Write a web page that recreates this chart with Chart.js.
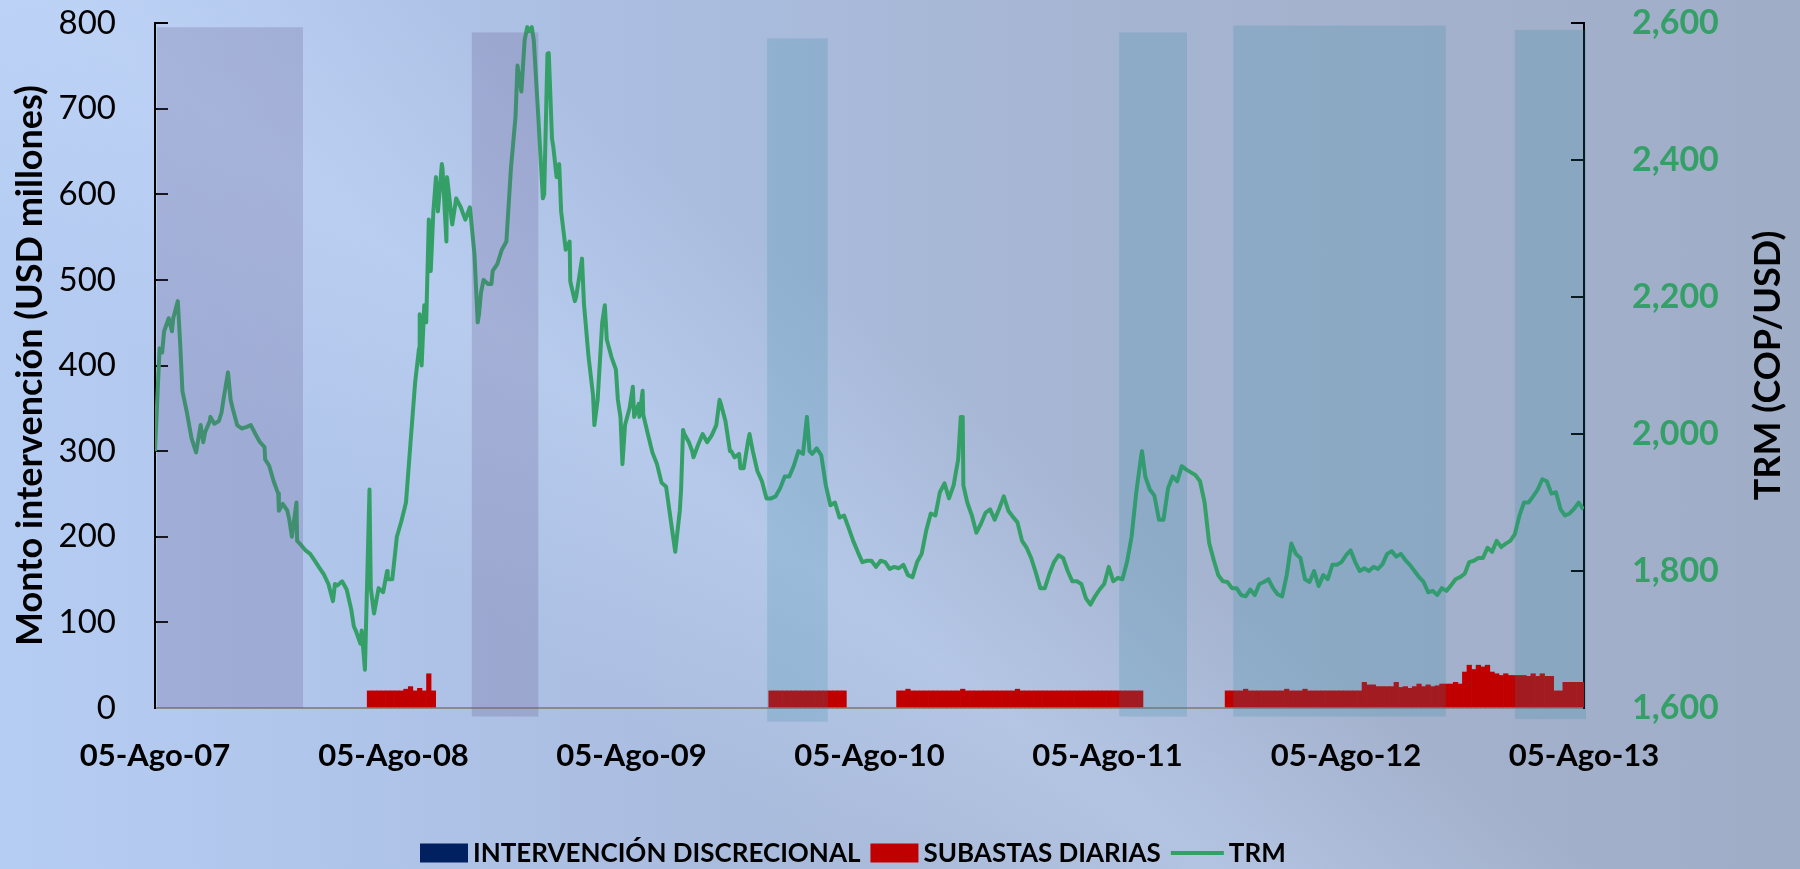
<!DOCTYPE html>
<html lang="es">
<head>
<meta charset="utf-8">
<title>Intervención cambiaria y TRM</title>
<script src="https://cdn.jsdelivr.net/npm/chart.js@4.4.1/dist/chart.umd.min.js"></script>
<style>
  html, body { margin: 0; padding: 0; }
  body {
    width: 1800px;
    height: 869px;
    overflow: hidden;
    background:
      linear-gradient(37deg, rgba(200, 220, 252, 0) 28%, rgba(200, 220, 252, 0.4) 41%, rgba(200, 220, 252, 0) 54%),
      linear-gradient(to right, #b6cdf3 0%, #acc0e4 30%, #a6b5d2 60%, #a0adc7 100%);
  }
  canvas { display: block; }
</style>
</head>
<body>
<canvas id="chart" width="1800" height="869"></canvas>
<script>
// x values are days counted from 05-Ago-2007
const tickDays = [0, 366, 731, 1096, 1461, 1827, 2192];
const tickLabels = ['05-Ago-07', '05-Ago-08', '05-Ago-09', '05-Ago-10', '05-Ago-11', '05-Ago-12', '05-Ago-13'];
const WEEK = 7;

// TRM (COP/USD), one reading per week
const trmWeekly = [
    1975, 2125, 2150, 2169, 2169, 2194, 2063, 2031, 1994, 1973,
    2013, 2003, 2019, 2015, 2019, 2050, 2090, 2038, 2013, 2008,
    2010, 2013, 2000, 1988, 1981, 1954, 1931, 1913, 1898, 1888,
    1850, 1900, 1838, 1830, 1825, 1815, 1805, 1795, 1781, 1756,
    1779, 1785, 1773, 1744, 1713, 1694, 1656, 1919, 1738, 1775,
    1769, 1788, 1788, 1850, 1873, 1900, 1988, 2075, 2175, 2188,
    2313, 2325, 2325, 2388, 2375, 2313, 2344, 2331, 2313, 2331,
    2263, 2175, 2225, 2219, 2238, 2248, 2269, 2281, 2388, 2463,
    2513, 2575, 2588, 2575, 2463, 2344, 2555, 2431, 2375, 2325,
    2269, 2223, 2194, 2231, 2190, 2113, 2056, 2050, 2163, 2138,
    2113, 2094, 2025, 2013, 2038, 2025, 2044, 2028, 2000, 1973,
    1956, 1929, 1923, 1875, 1828, 1888, 2000, 1988, 1966, 1984,
    2000, 1988, 1998, 2013, 2044, 2019, 1975, 1966, 1971, 1950,
    1991, 1975, 1946, 1931, 1906, 1906, 1909, 1921, 1938, 1938,
    1954, 1975, 1971, 2013, 1971, 1979, 1969, 1925, 1896, 1900,
    1878, 1881, 1863, 1844, 1828, 1813, 1815, 1815, 1806, 1815,
    1813, 1803, 1806, 1804, 1809, 1794, 1791, 1813, 1825, 1859,
    1884, 1881, 1915, 1928, 1906, 1925, 1963, 2025, 1900, 1881,
    1856, 1869, 1885, 1890, 1875, 1891, 1909, 1888, 1879, 1871,
    1844, 1834, 1819, 1798, 1775, 1775, 1796, 1813, 1823, 1819,
    1800, 1785, 1785, 1781, 1760, 1751, 1763, 1773, 1781, 1806,
    1785, 1790, 1788, 1813, 1850, 1913, 1963, 1938, 1919, 1910,
    1875, 1875, 1921, 1938, 1931, 1953, 1948, 1944, 1940, 1931,
    1900, 1841, 1816, 1794, 1785, 1784, 1775, 1775, 1765, 1763,
    1773, 1765, 1781, 1784, 1788, 1775, 1766, 1763, 1794, 1840,
    1825, 1819, 1788, 1784, 1800, 1778, 1794, 1788, 1809, 1809,
    1813, 1823, 1830, 1813, 1800, 1804, 1800, 1806, 1803, 1810,
    1825, 1829, 1821, 1825, 1816, 1809, 1800, 1791, 1784, 1769,
    1771, 1765, 1775, 1771, 1779, 1788, 1791, 1796, 1813, 1815,
    1819, 1819, 1834, 1828, 1844, 1835, 1840, 1844, 1854, 1881,
    1900, 1900, 1909, 1919, 1934, 1931, 1913, 1915, 1890, 1881,
    1884, 1891, 1900, 1890
];

// extra in-between TRM readings where the series jumps around
const trmExtraDays = [
    11, 26, 39, 74, 85, 102, 116, 169, 190, 206, 218, 276, 305, 317, 331, 356,
    405, 409, 416, 423, 431, 440, 447, 451, 456, 495, 500, 516, 556, 562, 571, 578,
    597, 604, 611, 620, 636, 646, 655, 674, 690, 710, 717, 733, 743, 748,
    807, 810, 824, 866, 884, 898, 912, 1000, 1004, 1236, 1240, 1514
];
const trmExtraValues = [
    2119, 2150, 2125, 1988, 2025, 2031, 2050, 1963, 1888, 1875, 1844, 1781, 1719, 1713, 1775, 1800,
    2125, 2100, 2163, 2238, 2375, 2394, 2281, 2350, 2306, 2163, 2206, 2219, 2538, 2500, 2594, 2594,
    2350, 2556, 2419, 2394, 2281, 2200, 2256, 2013, 2188, 2050, 1956, 2069, 2025, 2063,
    1919, 2006, 1975, 2050, 1975, 1950, 2000, 2025, 1975, 2025, 1925, 1975
];

// daily auctions (USD millones), first week of each program and weekly amounts
const auctionStartWeek = [47, 135, 163, 235];
const auctionAmounts = [
    [20, 20, 20, 20, 20, 20, 20, 20, 22, 25, 20, 23, 20, 40, 20],
    [20, 20, 20, 20, 20, 20, 20, 20, 20, 20, 20, 20, 20, 20, 20, 20, 20],
    [20, 20, 22, 20, 20, 20, 20, 20, 20, 20, 20, 20, 20, 20, 22, 20, 20, 20, 20, 20,
     20, 20, 20, 20, 20, 20, 22, 20, 20, 20, 20, 20, 20, 20, 20, 20, 20, 20, 20, 20,
     20, 20, 20, 20, 20, 20, 20, 20, 20, 20, 20, 20, 20, 20],
    [20, 20, 20, 20, 22, 20, 20, 20, 20, 20, 20, 20, 20, 22, 20, 20, 20, 22, 20, 20,
     20, 20, 20, 20, 20, 20, 20, 20, 20, 20,
     30, 27, 27, 25, 25, 25, 25, 30, 24, 25, 23, 25, 28, 25, 27, 25, 26, 28, 28, 28, 30, 28,
     42, 50, 45, 50, 48, 50, 42, 40, 38, 40, 38, 38, 38, 38, 37, 40, 37, 40, 37, 37,
     20, 20, 30, 30, 30, 30, 30]
];
const discretionaryAmounts = [];

// shaded periods (days from 05-Ago-2007, left-axis units)
const bandStart = [3, 486, 939, 1479, 1654, 2086];
const bandEnd = [227, 588, 1032, 1583, 1980, 2195];
const bandTop = [795, 789, 782, 789, 797, 792];
const bandBottom = [0, -10, -16, -10, -10, -13];
const bandKind = ['violet', 'violet', 'teal', 'teal', 'teal', 'teal'];

const GREEN = '#34a067';
const RED = '#c00000';
const NAVY = '#002060';
const SHADES = {
    violet: 'rgba(104, 92, 144, 0.25)',
    teal: 'rgba(47, 136, 160, 0.2)'
};
const FONT = 'Lato';

const trmPoints = trmWeekly.map((v, i) => ({ x: i * WEEK, y: v }))
    .concat(trmExtraDays.map((d, i) => ({ x: d, y: trmExtraValues[i] })))
    .sort((a, b) => a.x - b.x);
const auctionPoints = [];
auctionStartWeek.forEach((start, b) => {
    auctionAmounts[b].forEach((v, k) => auctionPoints.push({ x: (start + k) * WEEK, y: v }));
});
const discretionaryPoints = discretionaryAmounts.map(d => ({ x: d[0], y: d[1] }));

const bandsPlugin = {
    id: 'bands',
    afterDatasetsDraw(chart) {
        const { ctx, scales: { x, y } } = chart;
        ctx.save();
        bandStart.forEach((start, i) => {
            const left = x.getPixelForValue(start);
            const right = x.getPixelForValue(bandEnd[i]);
            const top = y.getPixelForValue(bandTop[i]);
            const bottom = y.getPixelForValue(bandBottom[i]);
            ctx.fillStyle = SHADES[bandKind[i]];
            ctx.fillRect(left, top, right - left, bottom - top);
        });
        ctx.restore();
    }
};

// right title reads bottom-to-top, like the left one
const rightTitlePlugin = {
    id: 'rightTitle',
    afterDraw(chart) {
        const { ctx, chartArea } = chart;
        const axis = chart.scales.y2;
        ctx.save();
        ctx.translate(axis.right - 32, (chartArea.top + chartArea.bottom) / 2);
        ctx.rotate(-Math.PI / 2);
        ctx.font = `bold 36px ${FONT}`;
        ctx.fillStyle = '#000';
        ctx.textAlign = 'center';
        ctx.textBaseline = 'middle';
        ctx.fillText('TRM (COP/USD)', 0, 0);
        ctx.restore();
    }
};

// legend drawn as in the original: tight gap between key and text
const legendPlugin = {
    id: 'flatLegend',
    afterDraw(chart) {
        const { ctx, chartArea } = chart;
        const y = chartArea.bottom + 145;
        let x = chartArea.left + 265;
        ctx.save();
        ctx.font = `bold 26px ${FONT}`;
        ctx.textBaseline = 'middle';
        ctx.textAlign = 'left';
        chart.data.datasets.forEach(ds => {
            if (ds.type === 'line') {
                ctx.strokeStyle = ds.borderColor;
                ctx.lineWidth = 4;
                ctx.beginPath();
                ctx.moveTo(x, y);
                ctx.lineTo(x + 53, y);
                ctx.stroke();
                x += 58;
            } else {
                ctx.fillStyle = ds.backgroundColor;
                ctx.fillRect(x, y - 9.5, 48, 19);
                x += 53;
            }
            ctx.fillStyle = '#000';
            ctx.fillText(ds.label, x, y + 1);
            x += ctx.measureText(ds.label).width + 10;
        });
        ctx.restore();
    }
};

const axisTicks = {
    drawOnChartArea: false,
    tickLength: -13,
    color: '#000',
    lineWidth: 2
};

// keep the plot area edges where the original has them
const fixWidth = width => scale => {
    scale.width = width;
    scale.paddingTop = 0;
    scale.paddingBottom = 0;
};

new Chart(document.getElementById('chart'), {
    type: 'bar',
    data: {
        datasets: [
            {
                type: 'bar',
                label: 'INTERVENCIÓN DISCRECIONAL',
                data: discretionaryPoints,
                backgroundColor: NAVY,
                borderWidth: 0,
                grouped: false,
                barPercentage: 1,
                categoryPercentage: 1,
                yAxisID: 'y'
            },
            {
                type: 'bar',
                label: 'SUBASTAS DIARIAS',
                data: auctionPoints,
                backgroundColor: RED,
                borderWidth: 0,
                grouped: false,
                barPercentage: 1,
                categoryPercentage: 1,
                yAxisID: 'y'
            },
            {
                type: 'line',
                label: 'TRM',
                data: trmPoints,
                borderColor: GREEN,
                borderWidth: 4,
                borderJoinStyle: 'round',
                pointRadius: 0,
                tension: 0,
                yAxisID: 'y2'
            }
        ]
    },
    options: {
        responsive: false,
        animation: false,
        devicePixelRatio: 1,
        layout: {
            padding: { top: 23, left: 0, right: 0, bottom: 61 }
        },
        plugins: {
            legend: { display: false },
            tooltip: { enabled: false }
        },
        scales: {
            x: {
                type: 'linear',
                min: 0,
                max: 2192,
                offset: false,
                afterBuildTicks: scale => {
                    scale.ticks = tickDays.map(v => ({ value: v }));
                },
                afterFit: scale => {
                    scale.height = 100;
                },
                grid: { display: false, drawTicks: false },
                border: { display: true, color: '#8a8a8a', width: 2 },
                ticks: {
                    autoSkip: false,
                    maxRotation: 0,
                    padding: 29,
                    color: '#000',
                    font: { family: FONT, weight: 'bold', size: 31 },
                    callback: (value, index) => tickLabels[index]
                }
            },
            y: {
                position: 'left',
                min: 0,
                max: 800,
                afterFit: fixWidth(155),
                grid: axisTicks,
                border: { color: '#000', width: 2 },
                ticks: {
                    stepSize: 100,
                    padding: 52,
                    color: '#000',
                    font: { family: FONT, size: 33 }
                },
                title: {
                    display: true,
                    text: 'Monto intervención (USD millones)',
                    color: '#000',
                    font: { family: FONT, weight: 'bold', size: 36 },
                    padding: { top: 9, bottom: 0 }
                }
            },
            y2: {
                position: 'right',
                min: 1600,
                max: 2600,
                afterFit: fixWidth(216),
                grid: axisTicks,
                border: { color: '#000', width: 2 },
                ticks: {
                    stepSize: 200,
                    padding: 61,
                    color: GREEN,
                    font: { family: FONT, weight: 'bold', size: 34 },
                    callback: value => value.toLocaleString('en-US')
                }
            }
        }
    },
    plugins: [bandsPlugin, rightTitlePlugin, legendPlugin]
});
</script>
</body>
</html>
